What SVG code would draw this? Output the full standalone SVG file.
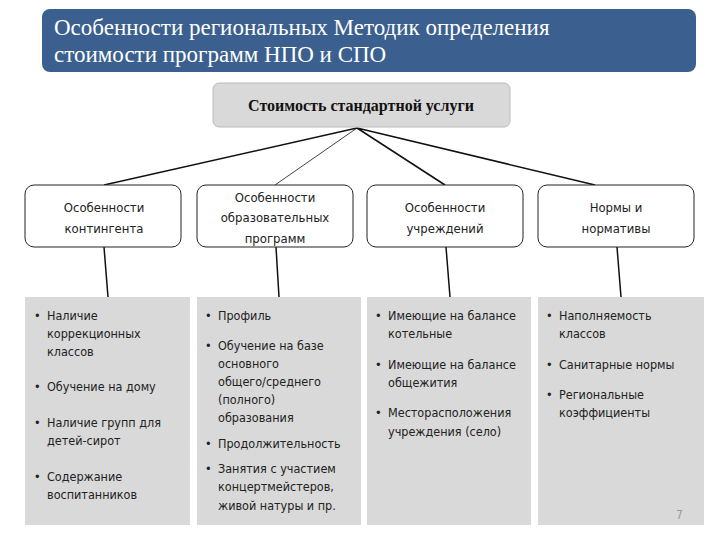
<svg xmlns="http://www.w3.org/2000/svg" width="720" height="540" viewBox="0 0 720 540">
<style>
.t{font-family:"DejaVu Sans Condensed","Noto Sans",sans-serif;font-size:12.5px;fill:#222}
.h{font-family:"DejaVu Sans Condensed","Noto Sans",sans-serif;font-size:13px;fill:#222;text-anchor:middle}
.box{fill:#fff;stroke:#222;stroke-width:1}
.panel{fill:#d9d9d9}
.ln{stroke:#111;stroke-width:1.5;fill:none}
</style>
<rect width="720" height="540" fill="#fff"/>
<g id="title">
<rect x="42" y="9" width="654" height="63" rx="8" fill="#3b5f8e"/>
<text x="54" y="35" font-family="Liberation Serif,serif" font-size="23" fill="#fff">Особенности региональных Методик  определения</text>
<text x="54" y="62" font-family="Liberation Serif,serif" font-size="23" fill="#fff">стоимости программ НПО и СПО</text>
</g>
<g id="connectors">
<path class="ln" d="M357,128 L104,185 M357,128 L445,185 M357,128 L595,185 M104,247 L108,297 M276,247 L279,297 M446,247 L450,297 M617,247 L621,297"/>
<path d="M357,128 L275,185" stroke="#111" stroke-width="0.8"/>
</g>
<g id="root">
<rect x="213" y="83" width="297" height="44" rx="6" fill="#d9d9d9" stroke="#bbb"/>
<text x="361" y="111" text-anchor="middle" font-family="Liberation Serif,serif" font-weight="bold" font-size="16" fill="#111">Стоимость стандартной услуги</text>
</g>
<g id="n1"><rect class="box" x="25" y="185" width="156" height="62" rx="9"/>
<text class="h" x="104" y="212">Особенности</text><text class="h" x="104" y="233">контингента</text></g>
<g id="n2"><rect class="box" x="197" y="185" width="156" height="62" rx="9"/>
<text class="h" x="275" y="202">Особенности</text><text class="h" x="275" y="222">образовательных</text><text class="h" x="275" y="243">программ</text></g>
<g id="n3"><rect class="box" x="367" y="185" width="156" height="62" rx="9"/>
<text class="h" x="445" y="212">Особенности</text><text class="h" x="445" y="233">учреждений</text></g>
<g id="n4"><rect class="box" x="538" y="185" width="156" height="62" rx="9"/>
<text class="h" x="616" y="212">Нормы и</text><text class="h" x="616" y="233">нормативы</text></g>
<g id="p1"><rect class="panel" x="25" y="297" width="165" height="228"/>
<text class="t"><tspan x="34" y="320">•</tspan><tspan x="47" y="320">Наличие</tspan><tspan x="47" y="338">коррекционных</tspan><tspan x="47" y="356">классов</tspan>
<tspan x="34" y="391">•</tspan><tspan x="47" y="391">Обучение на дому</tspan>
<tspan x="34" y="427">•</tspan><tspan x="47" y="427">Наличие групп для</tspan><tspan x="47" y="445">детей-сирот</tspan>
<tspan x="34" y="481">•</tspan><tspan x="47" y="481">Содержание</tspan><tspan x="47" y="499">воспитанников</tspan></text></g>
<g id="p2"><rect class="panel" x="197" y="297" width="164" height="228"/>
<text class="t"><tspan x="205" y="320">•</tspan><tspan x="218" y="320">Профиль</tspan>
<tspan x="205" y="350">•</tspan><tspan x="218" y="350">Обучение на базе</tspan><tspan x="218" y="368">основного</tspan><tspan x="218" y="386">общего/среднего</tspan><tspan x="218" y="404">(полного)</tspan><tspan x="218" y="422">образования</tspan>
<tspan x="205" y="448">•</tspan><tspan x="218" y="448">Продолжительность</tspan>
<tspan x="205" y="473">•</tspan><tspan x="218" y="473">Занятия с участием</tspan><tspan x="218" y="491">концертмейстеров,</tspan><tspan x="218" y="510">живой натуры и пр.</tspan></text></g>
<g id="p3"><rect class="panel" x="367" y="297" width="164" height="228"/>
<text class="t"><tspan x="375" y="320">•</tspan><tspan x="388" y="320">Имеющие на балансе</tspan><tspan x="388" y="338">котельные</tspan>
<tspan x="375" y="369">•</tspan><tspan x="388" y="369">Имеющие на балансе</tspan><tspan x="388" y="387">общежития</tspan>
<tspan x="375" y="417">•</tspan><tspan x="388" y="417">Месторасположения</tspan><tspan x="388" y="436">учреждения (село)</tspan></text></g>
<g id="p4"><rect class="panel" x="538" y="297" width="166" height="228"/>
<text class="t"><tspan x="546" y="320">•</tspan><tspan x="559" y="320">Наполняемость</tspan><tspan x="559" y="338">классов</tspan>
<tspan x="546" y="369">•</tspan><tspan x="559" y="369">Санитарные нормы</tspan>
<tspan x="546" y="399">•</tspan><tspan x="559" y="399">Региональные</tspan><tspan x="559" y="417">коэффициенты</tspan></text>
<text x="676" y="519" font-family="DejaVu Sans Condensed,sans-serif" font-size="12" fill="#999">7</text></g>
</svg>
